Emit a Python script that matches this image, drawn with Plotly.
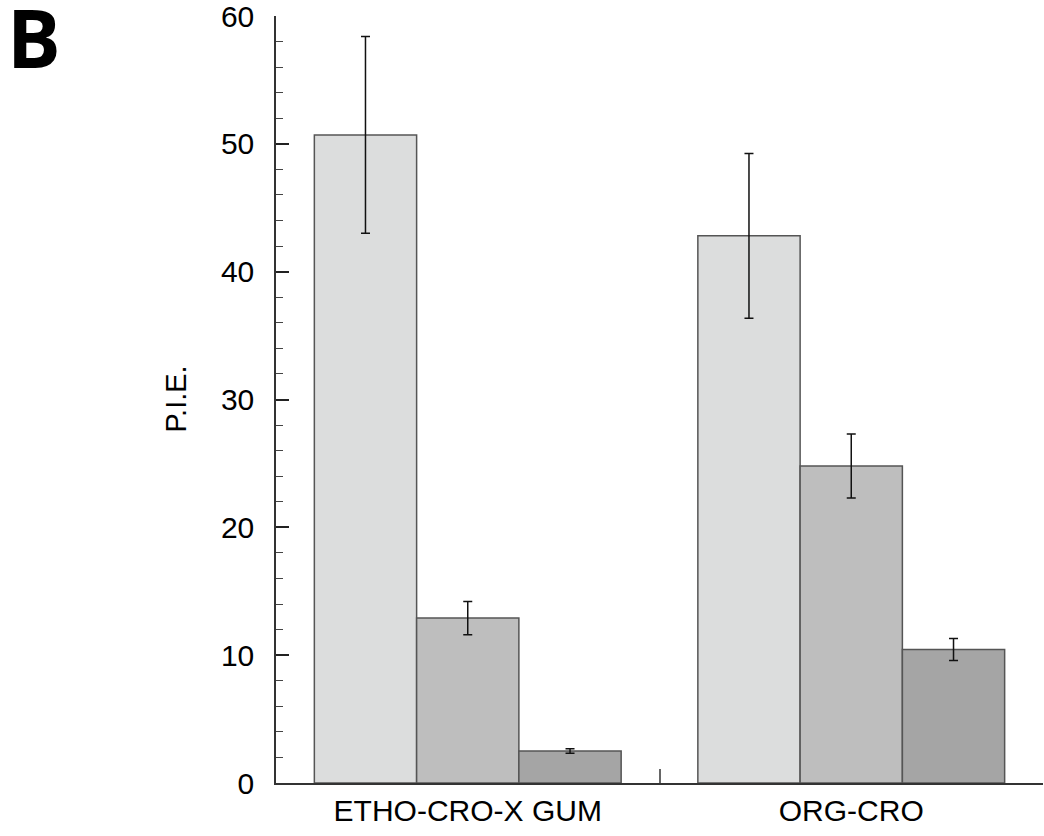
import plotly.graph_objects as go

categories = ["ETHO-CRO-X GUM", "ORG-CRO"]
series_names = ["Series 1", "Series 2", "Series 3"]
series_values = [
    [50.7, 42.8],
    [12.9, 24.8],
    [2.5, 10.45],
]
series_errors = [
    [7.7, 6.45],
    [1.3, 2.5],
    [0.18, 0.86],
]
series_colors = ["#DCDDDD", "#BEBEBE", "#A5A5A5"]
y_ticks = [0, 10, 20, 30, 40, 50, 60]

fig = go.Figure()
for name, vals, errs, col in zip(series_names, series_values, series_errors, series_colors):
    fig.add_trace(go.Bar(
        x=categories, y=vals, name=name,
        marker=dict(color=col, line=dict(color="#555555", width=1.5)),
        error_y=dict(type="data", array=errs, visible=True,
                     color="#111111", thickness=1.5, width=4.5),
    ))

font_family = "Liberation Sans, Arial, sans-serif"
fig.update_layout(
    barmode="group", bargap=0.2, bargroupgap=0,
    width=1044, height=836,
    margin=dict(l=276, r=1, t=16, b=53),
    paper_bgcolor="white", plot_bgcolor="white",
    showlegend=False,
    font=dict(family=font_family, size=30, color="black"),
    xaxis=dict(
        type="category", range=[-0.5, 1.5], automargin=False,
        tickson="boundaries", ticks="inside", ticklen=14, tickwidth=1.5,
        tickcolor="#666666",
        showline=True, linecolor="#333333", linewidth=1.5,
        showgrid=False, zeroline=False,
        tickfont=dict(size=30, family=font_family),
        ticklabelstandoff=0,
    ),
    yaxis=dict(
        range=[0, 60], tickvals=y_ticks, automargin=False,
        ticks="inside", ticklen=13, tickwidth=1.5, tickcolor="#222222",
        minor=dict(dtick=2, ticks="inside", ticklen=7, tickcolor="#444444", tickwidth=1.2),
        showline=True, linecolor="#333333", linewidth=1.5,
        showgrid=False, zeroline=False,
        tickfont=dict(size=30, family=font_family),
        ticklabelstandoff=14,
        ticklabeloverflow="allow",
    ),
    annotations=[
        dict(text="P.I.E.", xref="paper", yref="paper", x=0, y=0.5,
             xshift=-101, textangle=-90, showarrow=False,
             font=dict(size=29, family=font_family), xanchor="center", yanchor="middle"),
        dict(text="<b>B</b>", xref="paper", yref="paper", x=0, y=1,
             xshift=-271, yshift=-20, showarrow=False,
             font=dict(size=80, family="Open Sans, DejaVu Sans, sans-serif"),
             xanchor="left", yanchor="middle"),
    ],
)

post_js = "document.body.style.margin='0';document.body.style.overflow='hidden';document.documentElement.style.overflow='hidden';"
fig.write_html("out.html", post_script=post_js, config={"displayModeBar": False})
